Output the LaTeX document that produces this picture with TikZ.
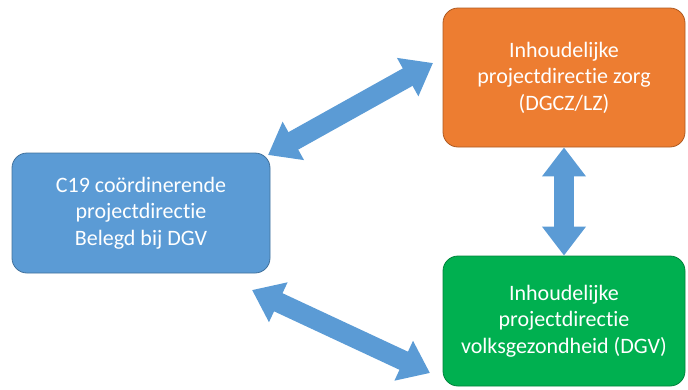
\documentclass[tikz,border=0pt]{standalone}
\usepackage{fontspec}
\setmainfont{Carlito}[Ligatures=NoCommon]
\usepackage{tikz}
\usetikzlibrary{arrows.meta}

\definecolor{vakblauw}{HTML}{5B9BD5}
\definecolor{randblauw}{HTML}{41719C}
\definecolor{vakoranje}{HTML}{ED7D31}
\definecolor{randoranje}{HTML}{AE5A21}
\definecolor{vakgroen}{HTML}{00B050}
\definecolor{randgroen}{HTML}{00843C}

\tikzset{
  vak/.style={draw, line width=0.8pt, rounded corners=15pt, align=center,
    text=white, font=\fontsize{22}{26.5}\selectfont},
  pijl/.style={line width=20pt, draw=vakblauw,
    >={Triangle[width=42pt,length=29pt]}}
}

\begin{document}
\begin{tikzpicture}[x=1pt,y=-1pt]
\useasboundingbox (0,0) rectangle (688,389);

\node (CoordinerendeDirectie) at (141,213) [vak, fill=vakblauw, draw=randblauw, minimum width=258pt, minimum height=120pt]{C19 coördinerende\\projectdirectie\\Belegd bij DGV};
\node (ZorgDirectie) at (564,77.5) [vak, fill=vakoranje, draw=randoranje, minimum width=242pt, minimum height=139pt]{Inhoudelijke\\projectdirectie zorg\\(DGCZ/LZ)};
\node (VgzDirectie) at (564,321) [vak, fill=vakgroen, draw=randgroen, minimum width=242pt, minimum height=130pt]{Inhoudelijke\\projectdirectie\\volksgezondheid (DGV)};

\coordinate (BovenLinks) at (268,155);
\coordinate (BovenRechts) at (433,63);
\coordinate (OnderLinks) at (252,290);
\coordinate (OnderRechts) at (430,373);

\draw [<->, pijl] (BovenLinks) -- (BovenRechts);
\draw [<->, pijl] (OnderLinks) -- (OnderRechts);
\draw [<->, pijl] (ZorgDirectie.south) -- (VgzDirectie.north);

\end{tikzpicture}
\end{document}
